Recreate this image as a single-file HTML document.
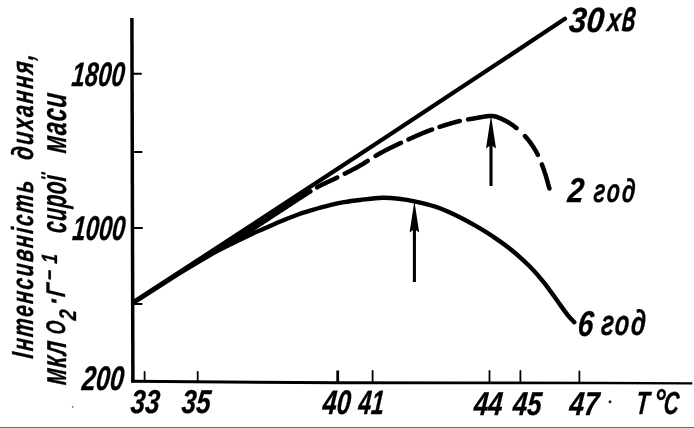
<!DOCTYPE html>
<html><head><meta charset="utf-8"><title>Інтенсивність дихання</title>
<style>
html,body{margin:0;padding:0;background:#fff;}
body{width:694px;height:428px;overflow:hidden;position:relative;}
svg{display:block;position:absolute;left:0;top:0;}
text{font-family:"Liberation Sans",sans-serif;font-style:italic;font-weight:700;fill:#000;stroke:#000;stroke-width:0.3px;stroke-linejoin:round;}
.bar{position:absolute;left:0;top:427px;width:694px;height:1px;background:#6c6c6c;}
</style></head><body>
<svg width="694" height="428" viewBox="0 0 694 428">
<rect width="694" height="428" fill="#fff"/>
<g fill="none" stroke="#000" stroke-linecap="round">
<!-- axes -->
<path d="M131.9,18 L132.9,382.5" stroke-width="3.5" stroke-linecap="butt"/>
<path d="M131.2,379.7 L340,381.3 L460,381.4 L600,381.8 L692.3,382.2 L692.3,384.4 L600,384.3 L460,384.2 L340,384.3 L131.2,382.7 Z" fill="#000" stroke="none"/>
<!-- y ticks -->
<path d="M132,73.8 H141 M132,152 H141.6 M132,228 H142 M132,304 H141.6" stroke-width="2"/>
<!-- x ticks -->
<path d="M144.6,371.8 V381 M197.7,371.8 V381 M372.6,370.8 V382 M489.5,370.8 V382 M520.4,370.8 V382 M579.4,371.5 V383" stroke-width="1.8"/>
<path d="M337.7,370.5 V382" stroke-width="2.8" stroke-linecap="butt"/>
<!-- 30 min line -->
<path d="M133.4,302 Q349,162.4 565,18.8" stroke-width="4.2"/>
<!-- 6 h curve -->
<path d="M133.2,302.8 C141.0,297.8 167.2,281.0 180.0,273.0 C192.8,265.0 201.7,259.8 210.0,255.0 C218.3,250.2 223.1,248.0 230.0,244.5 C236.9,241.0 245.9,236.8 251.3,234.2 C256.8,231.6 258.1,231.2 262.7,229.2 C267.3,227.2 273.6,224.3 279.1,222.0 C284.6,219.7 290.1,217.5 295.5,215.5 C300.9,213.5 306.1,211.9 311.8,210.2 C317.6,208.5 324.6,206.5 330.0,205.2 C335.4,203.9 339.0,203.1 344.0,202.2 C349.0,201.3 353.7,200.7 360.0,200.0 C366.3,199.3 375.6,198.0 382.0,197.8 C388.4,197.6 393.3,198.1 398.7,198.7 C404.1,199.3 408.2,199.9 414.4,201.3 C420.6,202.7 429.4,204.7 436.1,206.9 C442.8,209.2 448.6,211.9 454.8,214.8 C461.0,217.8 467.3,221.1 473.5,224.6 C479.7,228.1 486.0,231.8 492.2,236.0 C498.4,240.2 504.7,244.4 510.9,249.5 C517.1,254.6 524.0,260.7 529.6,266.3 C535.2,271.9 539.9,277.4 544.6,283.3 C549.3,289.2 554.2,296.6 558.0,301.8 C561.8,307.1 564.8,311.4 567.5,314.8 C570.2,318.2 573.2,321.0 574.3,322.2" stroke-width="4.4"/>
<!-- 2 h dashed curve -->
<path d="M201.5,259.1 L201.9,258.9 L202.4,258.6 L202.9,258.3 L203.4,258.0 L203.9,257.7 L204.5,257.4 L205.1,257.0 L205.7,256.7 L206.3,256.3 L206.9,255.9 L207.5,255.6 L208.2,255.2 L208.9,254.8 L209.5,254.4 L210.2,254.0 L210.9,253.6 L211.6,253.2 L212.4,252.7 L213.1,252.3 L213.8,251.9 L214.5,251.5 L215.3,251.0 L216.0,250.6 L216.7,250.2 L217.4,249.7 L218.2,249.3 L218.9,248.9 L219.6,248.5 L220.3,248.1 L221.0,247.6 L221.7,247.2 L222.4,246.8 L223.1,246.4 L223.7,246.1 L224.4,245.7 L225.0,245.3 L225.6,244.9 L226.2,244.6 L226.9,244.2 L227.5,243.9 L228.1,243.5 L228.7,243.2 L229.3,242.8 L229.9,242.5 L230.5,242.1 L231.1,241.8 L231.7,241.4 L232.3,241.1 L232.9,240.7 L233.5,240.4 L234.1,240.1 L234.7,239.7 L235.3,239.4 L235.9,239.0 L236.5,238.7 L237.1,238.3 L237.7,238.0 L238.3,237.6 L238.9,237.3 L239.5,236.9 L240.1,236.6 L240.7,236.2 L241.4,235.8 L242.0,235.5 L242.6,235.1 L243.3,234.7 L243.9,234.3 L244.6,233.9 L245.2,233.5 L245.9,233.1 L246.5,232.7 L247.2,232.3 L247.9,231.9 L248.6,231.5 L249.3,231.0 L250.0,230.6 L250.7,230.2 L251.4,229.7 L252.2,229.2 L252.9,228.8 L253.7,228.3 L254.4,227.8 L255.2,227.3 L255.9,226.8 L256.7,226.3 L257.5,225.8 L258.2,225.3 L259.0,224.8 L259.8,224.3 L260.6,223.8 L261.4,223.3 L262.2,222.8 L263.0,222.2 L263.8,221.7 L264.6,221.2 L265.5,220.6 L266.3,220.1 L267.1,219.6 L267.9,219.0 L268.7,218.5 L269.6,217.9 L270.4,217.4 L271.2,216.8 L272.1,216.3 L272.9,215.7 L273.7,215.2 L274.5,214.7 L275.4,214.1 L276.2,213.6 L277.0,213.0 L277.9,212.5 L278.7,211.9 L279.5,211.4 L280.4,210.9 L281.2,210.3 L282.0,209.8 L282.8,209.3 L283.7,208.7 L284.5,208.2 L285.3,207.6 L286.2,207.1 L287.1,206.5 L287.9,205.9 L288.8,205.4 L289.7,204.8 L290.6,204.2 L291.4,203.6 L292.3,203.1 L293.2,202.5 L294.1,201.9 L295.0,201.3 L295.9,200.7 L296.8,200.1 L297.6,199.6 L298.5,199.0 L299.4,198.4 L300.3,197.8 L301.2,197.3 L302.0,196.7 L302.9,196.1 L303.8,195.6 L304.6,195.0 L305.5,194.5 L306.3,194.0 L307.2,193.4 L308.0,192.9 L308.8,192.4 L309.6,191.9 L310.4,191.4 M317.1,187.4 L317.8,187.0 L318.4,186.6 L319.1,186.3 L319.8,185.9 L320.4,185.6 L321.0,185.3 L321.7,184.9 L322.3,184.6 L322.9,184.3 L323.5,184.0 L324.1,183.7 L324.6,183.4 L325.2,183.2 L325.8,182.9 L326.4,182.6 L326.9,182.4 L327.5,182.1 L328.0,181.8 L328.6,181.6 L329.1,181.3 L329.7,181.1 L330.2,180.9 L330.7,180.6 L331.3,180.4 L331.8,180.1 L332.3,179.9 L332.9,179.6 L333.4,179.4 L333.9,179.2 L334.5,178.9 L335.0,178.7 L335.5,178.4 L336.1,178.1 L336.6,177.9 L337.2,177.6 M344.8,173.7 L345.3,173.5 L345.9,173.2 L346.4,172.9 L346.9,172.6 L347.5,172.4 L348.0,172.1 L348.5,171.8 L349.1,171.5 L349.6,171.3 L350.1,171.0 L350.6,170.7 L351.2,170.4 L351.7,170.1 L352.2,169.9 L352.7,169.6 L353.3,169.3 L353.8,169.0 L354.3,168.8 L354.8,168.5 L355.3,168.2 L355.9,167.9 L356.4,167.6 L356.9,167.3 L357.4,167.1 L357.9,166.8 L358.5,166.5 L359.0,166.2 L359.5,165.9 L360.0,165.6 L360.5,165.3 L361.0,165.0 L361.5,164.7 L362.1,164.4 L362.6,164.1 L363.1,163.8 L363.6,163.5 L364.1,163.2 L364.6,162.8 L365.1,162.5 L365.6,162.2 L366.1,161.9 L366.7,161.6 L367.2,161.2 L367.7,160.9 M375.6,155.9 L376.1,155.6 L376.6,155.3 L377.1,155.0 L377.6,154.7 L378.1,154.4 L378.6,154.1 L379.0,153.8 L379.5,153.6 L380.0,153.3 L380.5,153.0 L380.9,152.8 L381.4,152.5 L381.9,152.3 L382.3,152.0 L382.8,151.8 L383.2,151.5 L383.7,151.3 L384.1,151.1 L384.5,150.8 L385.0,150.6 L385.4,150.4 L385.8,150.2 L386.3,150.0 L386.7,149.7 L387.1,149.5 L387.5,149.3 L388.0,149.1 L388.4,148.9 L388.8,148.7 L389.3,148.5 L389.7,148.2 L390.1,148.0 L390.6,147.8 L391.0,147.6 L391.4,147.4 L391.9,147.2 L392.3,147.0 L392.8,146.8 L393.3,146.5 L393.7,146.3 L394.2,146.1 L394.7,145.9 L395.2,145.6 L395.6,145.4 L396.1,145.2 L396.6,144.9 L397.2,144.7 L397.7,144.4 L398.2,144.2 L398.7,143.9 L399.3,143.7 L399.8,143.4 L400.4,143.2 L401.0,142.9 M408.5,139.4 L409.1,139.1 L409.8,138.8 L410.4,138.5 L411.0,138.3 L411.7,138.0 L412.3,137.7 L413.0,137.4 L413.6,137.1 L414.3,136.8 L414.9,136.5 L415.5,136.2 L416.2,136.0 L416.8,135.7 L417.4,135.4 L418.0,135.2 L418.6,134.9 L419.2,134.6 L419.8,134.4 L420.4,134.1 L421.0,133.9 L421.5,133.7 L422.1,133.4 L422.6,133.2 L423.1,133.0 L423.6,132.8 L424.2,132.6 L424.7,132.3 L425.2,132.1 L425.7,131.9 L426.2,131.8 L426.6,131.6 L427.1,131.4 L427.6,131.2 L428.1,131.0 L428.5,130.8 L429.0,130.7 L429.4,130.5 L429.9,130.3 L430.3,130.1 L430.8,130.0 L431.2,129.8 L431.7,129.7 L432.1,129.5 M439.5,126.9 L439.9,126.8 L440.3,126.6 L440.8,126.5 L441.3,126.4 L441.7,126.2 L442.2,126.1 L442.6,125.9 L443.1,125.8 L443.6,125.6 L444.0,125.5 L444.5,125.3 L445.0,125.2 L445.4,125.0 L445.9,124.9 L446.4,124.7 L446.8,124.6 L447.3,124.4 L447.8,124.3 L448.2,124.2 L448.7,124.0 L449.2,123.9 L449.6,123.7 L450.1,123.6 L450.6,123.5 L451.0,123.3 L451.5,123.2 L451.9,123.1 L452.4,122.9 L452.9,122.8 L453.3,122.7 L453.8,122.6 L454.2,122.4 L454.7,122.3 L455.1,122.2 L455.6,122.1 L456.0,122.0 L456.4,121.8 L456.9,121.7 L457.3,121.6 L457.7,121.5 L458.2,121.4 L458.6,121.3 L459.0,121.2 L459.4,121.1 L459.8,121.0 M468.1,119.4 L468.5,119.3 L468.9,119.3 L469.2,119.2 L469.6,119.1 L470.0,119.1 L470.4,119.0 L470.7,119.0 L471.1,118.9 L471.5,118.8 L471.9,118.8 L472.2,118.7 L472.6,118.7 L473.0,118.6 L473.4,118.5 L473.8,118.5 L474.2,118.4 L474.6,118.3 L475.0,118.3 L475.4,118.2 L475.8,118.1 L476.3,118.0 L476.7,118.0 L477.1,117.9 L477.6,117.8 L478.0,117.7 L478.4,117.6 L478.9,117.6 L479.3,117.5 L479.8,117.4 L480.2,117.3 L480.7,117.2 L481.1,117.2 L481.5,117.1 L482.0,117.0 L482.4,116.9 L482.9,116.8 L483.3,116.8 L483.8,116.7 L484.2,116.6 L484.6,116.6 L485.1,116.5 L485.5,116.4 L485.9,116.4 L486.4,116.3 L486.8,116.3 L487.2,116.2 L487.6,116.2 L488.0,116.1 L488.4,116.1 L488.8,116.1 L489.2,116.0 L489.6,116.0 L489.9,116.0 L490.3,116.0 L490.7,116.0 L491.0,116.0 L491.3,116.0 L491.7,116.0 L492.0,116.0 L492.3,116.1 L492.6,116.1 L492.9,116.1 L493.2,116.1 L493.5,116.2 L493.8,116.2 L494.1,116.3 L494.3,116.3 L494.6,116.4 L494.9,116.4 L495.1,116.5 L495.4,116.5 L495.6,116.6 L495.9,116.6 L496.1,116.7 L496.4,116.8 L496.6,116.9 L496.8,116.9 L497.1,117.0 L497.3,117.1 L497.5,117.2 L497.8,117.3 L498.0,117.4 L498.3,117.5 L498.5,117.6 L498.7,117.7 L499.0,117.8 L499.2,117.9 L499.5,118.0 L499.7,118.1 L500.0,118.2 L500.2,118.3 L500.5,118.4 L500.8,118.5 L501.0,118.7 L501.3,118.8 L501.6,118.9 L501.9,119.0 L502.2,119.2 L502.5,119.3 L502.7,119.4 L503.0,119.6 L503.3,119.7 L503.6,119.8 L503.9,120.0 L504.2,120.1 L504.5,120.3 L504.8,120.4 L505.1,120.6 L505.4,120.7 L505.7,120.9 L506.0,121.0 L506.3,121.2 L506.6,121.4 L506.9,121.5 L507.2,121.7 L507.5,121.9 L507.9,122.1 L508.2,122.2 L508.5,122.4 L508.8,122.6 L509.1,122.8 L509.4,123.0 L509.7,123.2 L510.0,123.4 L510.3,123.6 L510.6,123.8 L510.9,124.0 L511.2,124.2 L511.6,124.4 L511.9,124.6 L512.2,124.8 L512.5,125.0 L512.8,125.2 L513.1,125.5 L513.4,125.7 L513.7,125.9 L514.0,126.1 L514.3,126.4 L514.6,126.6 L514.9,126.8 L515.2,127.1 L515.5,127.3 L515.8,127.6 L516.2,127.8 L516.5,128.1 M525.0,136.1 L525.3,136.4 L525.6,136.8 L525.9,137.1 L526.2,137.4 L526.5,137.8 L526.8,138.1 L527.0,138.4 L527.3,138.8 L527.6,139.1 L527.9,139.5 L528.2,139.8 L528.5,140.2 L528.7,140.5 L529.0,140.9 L529.3,141.3 L529.6,141.6 L529.8,142.0 L530.1,142.4 L530.4,142.7 L530.7,143.1 L530.9,143.5 L531.2,143.9 L531.5,144.3 L531.8,144.6 L532.0,145.0 L532.3,145.4 L532.6,145.8 L532.8,146.2 L533.1,146.6 L533.3,147.0 L533.6,147.4 L533.8,147.8 L534.1,148.2 L534.3,148.6 L534.6,149.0 L534.8,149.4 L535.1,149.8 L535.3,150.2 L535.6,150.6 L535.8,151.1 L536.0,151.5 L536.3,151.9 L536.5,152.3 L536.7,152.7 L536.9,153.1 L537.2,153.6 L537.4,154.0 L537.6,154.4 L537.8,154.9 M541.9,164.4 L542.1,164.8 L542.2,165.3 L542.4,165.8 L542.6,166.3 L542.7,166.7 L542.9,167.2 L543.1,167.7 L543.3,168.1 L543.4,168.6 L543.6,169.1 L543.8,169.6 L543.9,170.0 L544.1,170.5 L544.3,171.0 L544.4,171.5 L544.6,172.0 L544.8,172.5 L544.9,173.0 L545.1,173.5 L545.3,174.1 L545.5,174.6 L545.6,175.2 L545.8,175.7 L546.0,176.3 L546.1,176.9 L546.3,177.4 L546.5,178.0 L546.6,178.6 L546.8,179.1 L547.0,179.7 L547.1,180.3 L547.3,180.8 L547.4,181.4 L547.6,181.9 L547.7,182.5 L547.9,183.0 L548.0,183.5 L548.2,184.1 L548.3,184.6 L548.4,185.1 L548.6,185.5 L548.7,186.0 L548.8,186.5 L548.9,186.9 L549.1,187.3 L549.2,187.7 L549.3,188.1 L549.4,188.5" stroke-width="4.5" stroke-linecap="round" stroke-linejoin="round"/>
<!-- arrows -->
<path d="M491,186 V140" stroke-width="3.1" stroke-linecap="butt"/>
<path d="M414.4,282 V222" stroke-width="3.1" stroke-linecap="butt"/>
</g>
<path d="M491,115.5 L496,148.5 L491,145 L486,148.5 Z" fill="#000"/>
<path d="M414.4,201 L419.2,232.5 L414.4,229 L409.6,232.5 Z" fill="#000"/>
<circle cx="610" cy="401.8" r="1.5" fill="#222"/>
<circle cx="72.7" cy="406.8" r="0.9" fill="#666"/>
<!-- labels -->
<text transform="translate(124,86.3) skewX(-5) scale(0.7,1)" font-size="34" text-anchor="end">1800</text>
<text transform="translate(124.6,240) skewX(-5) scale(0.69,1)" font-size="34.5" text-anchor="end">1000</text>
<text transform="translate(123.3,390.2) skewX(-5) scale(0.74,1)" font-size="34" text-anchor="end">200</text>
<text transform="translate(144.5,413) skewX(-5) scale(0.79,1)" font-size="33" text-anchor="middle">33</text>
<text transform="translate(195.5,413) skewX(-5) scale(0.79,1)" font-size="33" text-anchor="middle">35</text>
<text transform="translate(336,413.8) skewX(-5) scale(0.74,1)" font-size="34" text-anchor="middle">40</text>
<text transform="translate(370.5,413.8) skewX(-5) scale(0.68,1)" font-size="34" text-anchor="middle">41</text>
<text transform="translate(487.5,414.5) skewX(-5) scale(0.78,1)" font-size="33" text-anchor="middle">44</text>
<text transform="translate(526.5,414.5) skewX(-5) scale(0.78,1)" font-size="33" text-anchor="middle">45</text>
<text transform="translate(583.5,414.5) skewX(-5) scale(0.8,1)" font-size="33" text-anchor="middle">47</text>
<text transform="translate(635.2,413.5) skewX(-5)"><tspan x="0.00" y="0.00" font-size="32" textLength="13.29" lengthAdjust="spacingAndGlyphs">T</tspan><tspan x="17.28" y="0.90" font-size="36" textLength="11.53" lengthAdjust="spacingAndGlyphs">°</tspan><tspan x="27.80" y="0.00" font-size="32" textLength="15.25" lengthAdjust="spacingAndGlyphs">C</tspan></text>
<text transform="translate(568.3,31.5) skewX(-5)"><tspan x="0.00" y="0.00" font-size="35" textLength="35.04" lengthAdjust="spacingAndGlyphs">30</tspan> <tspan x="38.16" y="-0.50" font-size="33" textLength="13.77" lengthAdjust="spacingAndGlyphs">х</tspan><tspan x="52.86" y="-0.50" font-size="45" textLength="13.59" lengthAdjust="spacingAndGlyphs">в</tspan></text>
<text transform="translate(567,201.9) skewX(-5)"><tspan x="0.00" y="0.00" font-size="34.5" textLength="16.12" lengthAdjust="spacingAndGlyphs">2</tspan> <tspan x="25.98" y="-0.20" font-size="33" letter-spacing="3.2" textLength="43.52" lengthAdjust="spacingAndGlyphs">год</tspan></text>
<text transform="translate(577,335.5) skewX(-5)"><tspan x="0.00" y="0.00" font-size="36" textLength="15.62" lengthAdjust="spacingAndGlyphs">6</tspan> <tspan x="23.46" y="-0.50" font-size="35.8" letter-spacing="2.4" textLength="45.82" lengthAdjust="spacingAndGlyphs">год</tspan></text>
<text transform="translate(33.3,359) rotate(-90) skewX(-5)"><tspan x="0.00" y="0.00" font-size="30.5" letter-spacing="2.3" textLength="179.48" lengthAdjust="spacingAndGlyphs">Інтенсивність</tspan> <tspan x="198.46" y="-0.50" font-size="30.5" letter-spacing="2.3" textLength="107.64" lengthAdjust="spacingAndGlyphs">дихання,</tspan></text>
<text transform="translate(66,385.4) rotate(-90) skewX(-5)"><tspan x="0.00" y="0.00" font-size="35.5" letter-spacing="1" textLength="44.25" lengthAdjust="spacingAndGlyphs">мкл</tspan> <tspan x="50.27" y="-1.50" font-size="27" textLength="13.45" lengthAdjust="spacingAndGlyphs">O</tspan><tspan x="65.47" y="10.00" font-size="24" textLength="10.42" lengthAdjust="spacingAndGlyphs">2</tspan><tspan x="79.23" y="-2.00" font-size="30" textLength="8.00" lengthAdjust="spacingAndGlyphs">·</tspan><tspan x="87.81" y="-1.00" font-size="27" textLength="13.26" lengthAdjust="spacingAndGlyphs">Г</tspan><tspan x="103.57" y="-9.50" font-size="22" letter-spacing="8.5" textLength="33.68" lengthAdjust="spacingAndGlyphs">−1</tspan> <tspan x="151.70" y="0.00" font-size="35.5" letter-spacing="1" textLength="58.31" lengthAdjust="spacingAndGlyphs">сирої</tspan> <tspan x="231.72" y="0.20" font-size="35.5" letter-spacing="1" textLength="60.35" lengthAdjust="spacingAndGlyphs">маси</tspan></text>
</svg>
<div class="bar"></div>
</body></html>
